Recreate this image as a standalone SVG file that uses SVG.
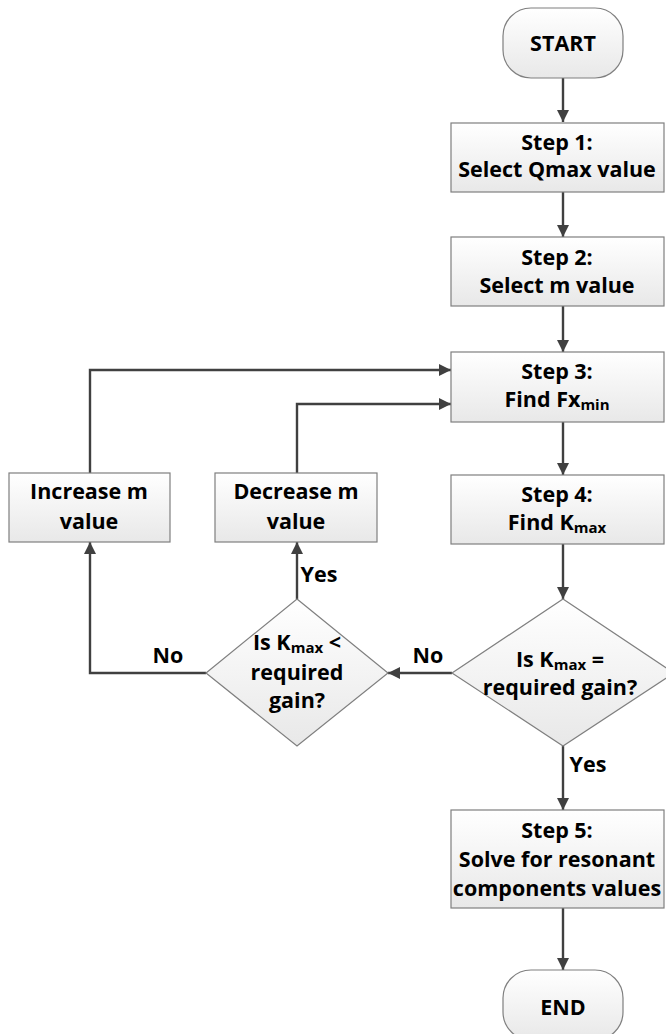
<svg xmlns="http://www.w3.org/2000/svg" width="666" height="1034" viewBox="0 0 666 1034">
<defs>
<linearGradient id="g" x1="0" y1="0" x2="0" y2="1">
<stop offset="0" stop-color="#ffffff"/>
<stop offset="1" stop-color="#e8e8e8"/>
</linearGradient>
<marker id="ah" markerWidth="14" markerHeight="14" refX="12" refY="6" orient="auto" markerUnits="userSpaceOnUse">
<path d="M0,0 L12,6 L0,12 Z" fill="#404040"/>
</marker>
<style>
.n{fill:url(#g);stroke:#7f7f7f;stroke-width:1.2}
.t{font-family:"Open Sans","Liberation Sans",sans-serif;font-weight:bold;font-size:21.5px;fill:#000;text-anchor:middle}
.s{font-size:15px}
.c{fill:none;stroke:#404040;stroke-width:2.4;marker-end:url(#ah)}
</style>
</defs>
<rect width="666" height="1034" fill="#fff"/>
<g id="connectors">
<line class="c" x1="563" y1="78" x2="563" y2="122"/>
<line class="c" x1="563" y1="192" x2="563" y2="237"/>
<line class="c" x1="563" y1="306" x2="563" y2="352"/>
<line class="c" x1="563" y1="422" x2="563" y2="475"/>
<line class="c" x1="563" y1="544" x2="563" y2="599"/>
<line class="c" x1="452" y1="673" x2="388" y2="673"/>
<line class="c" x1="297" y1="599" x2="297" y2="542"/>
<polyline class="c" points="206,673 90,673 90,542"/>
<polyline class="c" points="90,473 90,370 451,370"/>
<polyline class="c" points="297,473 297,404 451,404"/>
<line class="c" x1="563" y1="746" x2="563" y2="810"/>
<line class="c" x1="563" y1="908" x2="563" y2="970"/>
<text class="t" x="428" y="663">No</text>
<text class="t" x="168" y="663">No</text>
<text class="t" x="319" y="582">Yes</text>
<text class="t" x="588" y="772">Yes</text>
</g>
<g id="start">
<rect class="n" x="503" y="8" width="120" height="70" rx="28" ry="28"/>
<text class="t" x="563" y="51">START</text>
</g>
<g id="step1">
<rect class="n" x="451" y="123" width="213" height="69"/>
<text class="t" x="557" y="150">Step 1:</text>
<text class="t" x="557" y="177">Select Qmax value</text>
</g>
<g id="step2">
<rect class="n" x="451" y="237" width="213" height="69"/>
<text class="t" x="557" y="265">Step 2:</text>
<text class="t" x="557" y="293">Select m value</text>
</g>
<g id="step3">
<rect class="n" x="451" y="352" width="213" height="70"/>
<text class="t" x="557" y="379">Step 3:</text>
<text class="t" x="557" y="407">Find Fx<tspan class="s" dy="3">min</tspan></text>
</g>
<g id="step4">
<rect class="n" x="451" y="475" width="213" height="69"/>
<text class="t" x="557" y="502">Step 4:</text>
<text class="t" x="557" y="530">Find K<tspan class="s" dy="3">max</tspan></text>
</g>
<g id="increase">
<rect class="n" x="9" y="473" width="161" height="69"/>
<text class="t" x="89" y="499">Increase m</text>
<text class="t" x="89" y="529">value</text>
</g>
<g id="decrease">
<rect class="n" x="215" y="473" width="162" height="69"/>
<text class="t" x="296" y="499">Decrease m</text>
<text class="t" x="296" y="529">value</text>
</g>
<g id="decision1">
<polygon class="n" points="563,599 674,673 563,746 452,673"/>
<text class="t" x="560" y="667">Is K<tspan class="s" dy="3">max</tspan><tspan dy="-3"> =</tspan></text>
<text class="t" x="560" y="695">required gain?</text>
</g>
<g id="decision2">
<polygon class="n" points="297,599 388,673 297,746 206,673"/>
<text class="t" x="297" y="650">Is K<tspan class="s" dy="3">max</tspan><tspan dy="-3"> &lt;</tspan></text>
<text class="t" x="297" y="680">required</text>
<text class="t" x="297" y="708">gain?</text>
</g>
<g id="step5">
<rect class="n" x="451" y="810" width="213" height="98"/>
<text class="t" x="557" y="838">Step 5:</text>
<text class="t" x="557" y="867">Solve for resonant</text>
<text class="t" x="557" y="896">components values</text>
</g>
<g id="end">
<rect class="n" x="503" y="970" width="120" height="70" rx="28" ry="28"/>
<text class="t" x="563" y="1015">END</text>
</g>
</svg>
